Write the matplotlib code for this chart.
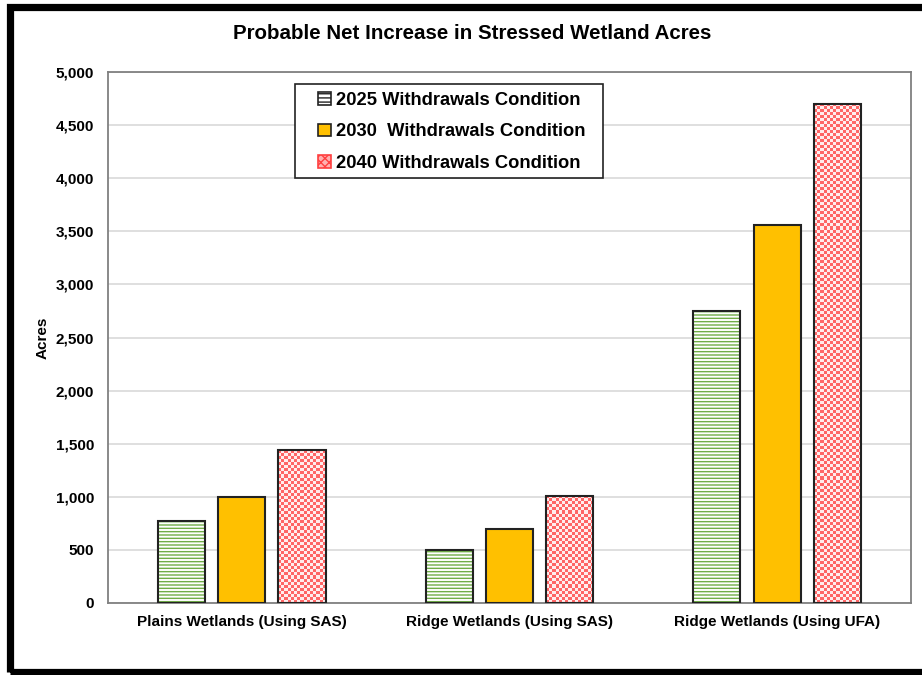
import numpy as np
import matplotlib.pyplot as plt
from matplotlib.patches import Rectangle, Patch
from matplotlib.ticker import FuncFormatter

plt.rcParams['font.family'] = ['Liberation Sans', 'DejaVu Sans']
plt.rcParams['font.weight'] = 'bold'
plt.rcParams['hatch.linewidth'] = 1.0

categories = ["Plains Wetlands (Using SAS)", "Ridge Wetlands (Using SAS)",
              "Ridge Wetlands (Using UFA)"]
series_names = ["2025 Withdrawals Condition", "2030  Withdrawals Condition",
                "2040 Withdrawals Condition"]
acres_2025 = [770, 500, 2750]
acres_2030 = [1000, 700, 3560]
acres_2040 = [1440, 1010, 4700]

fig = plt.figure(figsize=(9.22, 6.75), dpi=100)
ax = fig.add_axes([0.117, 0.1067, 0.871, 0.7866])

x = np.arange(len(categories))
width = 0.176
offset = 0.225
green = "#70ad47"
gold = "#ffc000"

ax.set_xlim(-0.5, len(categories) - 0.5)
ax.set_ylim(0, 5000)

ax.bar(x - offset, acres_2025, width, facecolor="white", edgecolor=green,
       hatch="-----", linewidth=0, zorder=2)
ax.bar(x - offset, acres_2025, width, facecolor="none", edgecolor="#222222",
       linewidth=1.5, zorder=4)
ax.bar(x, acres_2030, width, facecolor=gold, edgecolor="#222222", linewidth=1.5,
       zorder=4)
b40 = ax.bar(x + offset, acres_2040, width, facecolor="none", edgecolor="#222222",
             linewidth=1.5, zorder=4)

# checkerboard fill for the 2040 bars, clipped to each bar
fig.canvas.draw()
for bar in b40:
    x0, y0 = bar.get_x(), bar.get_y()
    x1, y1 = x0 + bar.get_width(), y0 + bar.get_height()
    (px0, py0), (px1, py1) = ax.transData.transform([(x0, y0), (x1, y1)])
    nx = max(int(abs(px1 - px0) / 3), 1)
    ny = max(int(abs(py1 - py0) / 3), 1)
    cells = np.add.outer(np.arange(ny), np.arange(nx)) % 2
    rgb = np.ones((ny, nx, 3))
    rgb[cells == 0] = [1.0, 0.40, 0.40]
    rgb[cells == 1] = [1.0, 0.93, 0.93]
    im = ax.imshow(rgb, extent=(x0, x1, y0, y1), aspect="auto",
                   interpolation="nearest", zorder=3)
    im.set_clip_path(bar)
ax.set_xlim(-0.5, len(categories) - 0.5)
ax.set_ylim(0, 5000)

ax.set_yticks(np.arange(0, 5001, 500))
ax.yaxis.set_major_formatter(FuncFormatter(lambda v, p: f"{int(v):,}"))
ax.set_xticks(x)
ax.set_xticklabels(categories)
ax.tick_params(axis="y", length=0, pad=10, labelsize=11)
ax.tick_params(axis="x", length=0, pad=9, labelsize=11)
ax.grid(axis="y", color="#d9d9d9", linewidth=1.2, zorder=0)
ax.set_axisbelow(True)
for s in ax.spines.values():
    s.set_color("#808080")
    s.set_linewidth(1.3)
ax.set_ylabel("Acres", fontsize=11, fontweight="bold", labelpad=4)

fig.text(0.512, 0.951, "Probable Net Increase in Stressed Wetland Acres",
         ha="center", va="center", fontsize=14.8, fontweight="bold")

handles = [
    Patch(facecolor="white", edgecolor=green, hatch="----", linewidth=0),
    Patch(facecolor=gold, edgecolor="#222222", linewidth=1.2),
    Patch(facecolor="#ffb0b0", edgecolor="#222222", hatch="xxxx", linewidth=1.2),
]
leg = ax.legend(handles, series_names, loc="upper left",
                bbox_to_anchor=(0.2615, 0.962), fontsize=13.2, frameon=False,
                handlelength=0.7, handleheight=0.7, handletextpad=0.3,
                labelspacing=0.78, borderpad=0, borderaxespad=0)
leg.set_zorder(6)
leg.legend_handles[0].set_edgecolor("#222222")
leg.legend_handles[0].set_linewidth(1.2)
leg.legend_handles[2].set_edgecolor("#ff4040")

# legend box, wider side padding than the legend frame allows
ax.add_patch(Rectangle((0.2329, 0.8004), 0.3836, 0.177, transform=ax.transAxes,
                       facecolor="white", edgecolor="#222222", linewidth=1.2,
                       zorder=5))

# outer black frame
fig.patches.append(Rectangle((9.5 / 922, 1 - 671.5 / 675), 930 / 922,
                             (671.5 - 6.5) / 675, transform=fig.transFigure,
                             fill=False, edgecolor="black", linewidth=5.2))

fig.savefig("out.png", dpi=100)
